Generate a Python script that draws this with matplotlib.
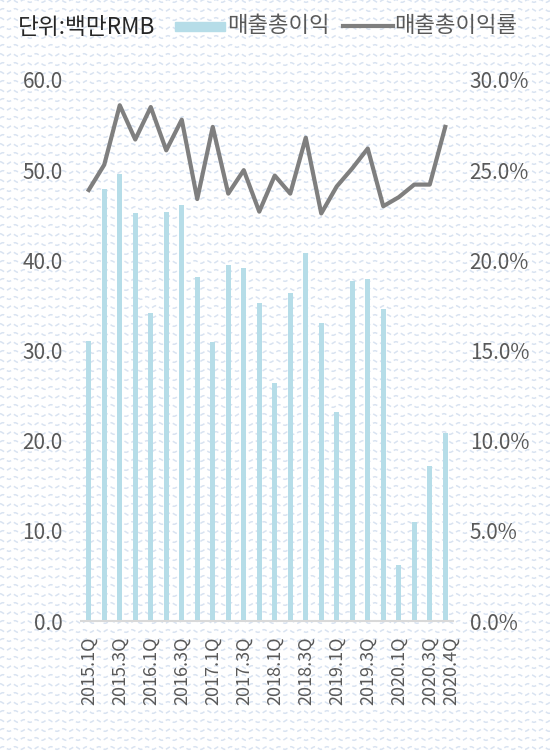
import numpy as np
import matplotlib
matplotlib.use("Agg")
import matplotlib.pyplot as plt
from matplotlib.patches import Rectangle
from matplotlib.lines import Line2D
from matplotlib.transforms import ScaledTranslation

plt.rcParams['font.family'] = ['Noto Sans CJK KR', 'DejaVu Sans']

quarters = [f"{y}.{q}Q" for y in range(2015, 2021) for q in range(1, 5)]
gross_profit = [31.1, 47.9, 49.6, 45.2, 34.2, 45.4, 46.1, 38.1,
                30.9, 39.5, 39.1, 35.3, 26.4, 36.4, 40.8, 33.0,
                23.2, 37.7, 37.9, 34.6, 6.2, 11.0, 17.2, 20.9]
gross_margin = [23.9, 25.3, 28.6, 26.7, 28.5, 26.1, 27.8, 23.4,
                27.4, 23.7, 25.0, 22.7, 24.7, 23.7, 26.8, 22.6,
                24.1, 25.1, 26.2, 23.0, 23.5, 24.2, 24.2, 27.4]
shown_labels = ["2015.1Q", "2015.3Q", "2016.1Q", "2016.3Q", "2017.1Q", "2017.3Q",
                "2018.1Q", "2018.3Q", "2019.1Q", "2019.3Q", "2020.1Q", "2020.3Q", "2020.4Q"]

bar_color = '#b6dde8'
line_color = '#7f7f7f'
text_color = '#595959'

W, H = 550, 751
fig = plt.figure(figsize=(W / 100, H / 100), dpi=100)
fig.patch.set_facecolor('white')

# wavy background texture
bg = fig.add_axes([0, 0, 1, 1], zorder=-5)
bg.set_xlim(0, W)
bg.set_ylim(0, H)
bg.axis('off')
xs = np.linspace(0, W, 800)
for i, yy in enumerate(np.arange(3, H, 9)):
    shift = 3 if i % 2 else 0
    bg.plot(xs, yy + 1.3 * np.sin(2 * np.pi * (xs + shift) / 12), color='#d9e3f1',
            lw=1.1, dashes=(3, 2))

ax = fig.add_axes([81 / W, 1 - 621 / H, (453 - 81) / W, (621 - 80) / H])
ax.set_facecolor('none')
x = np.arange(len(quarters))
ax.bar(x, gross_profit, width=0.33, color=bar_color, zorder=2)
ax.set_ylim(0, 60)
ax.set_xlim(-0.5, len(quarters) - 0.5)
ax.set_yticks(np.arange(0, 61, 10))
ax.set_yticklabels([f"{v:.1f}" for v in np.arange(0, 61, 10)])
ticks = [quarters.index(l) for l in shown_labels]
ax.set_xticks(ticks)
ax.set_xticklabels(shown_labels, rotation=90)
for s in ['top', 'right', 'left']:
    ax.spines[s].set_visible(False)
ax.spines['bottom'].set_color('#d9d9d9')
ax.spines['bottom'].set_linewidth(1.5)
ax.tick_params(axis='both', length=0, colors=text_color)
ax.tick_params(axis='y', labelsize=15, pad=13)
ax.tick_params(axis='x', labelsize=13, pad=11)
# nudge the last (crowded) label to the right, as in the original
last = ax.get_xticklabels()[-1]
last.set_transform(last.get_transform() + ScaledTranslation(6 / 100, 0, fig.dpi_scale_trans))

ax2 = ax.twinx()
ax2.plot(x, gross_margin, color=line_color, lw=3, zorder=3)
ax2.set_ylim(0, 30)
ax2.set_yticks(np.arange(0, 31, 5))
ax2.set_yticklabels([f"{v:.1f}%" for v in np.arange(0, 31, 5)])
for s in ax2.spines.values():
    s.set_visible(False)
ax2.tick_params(axis='y', length=0, colors=text_color, labelsize=15, pad=12)

# header: unit + legend
fig.text(18 / W, 1 - 27 / H, "단위:백만RMB", fontsize=16.3, color='#262626', va='center')
fig.patches.append(Rectangle((175 / W, 1 - 31 / H), 50 / W, 9 / H,
                             transform=fig.transFigure, color=bar_color))
fig.text(227 / W, 1 - 26 / H, "매출총이익", fontsize=16, color=text_color, va='center')
fig.lines.append(Line2D([343 / W, 393 / W], [1 - 26 / H, 1 - 26 / H],
                        transform=fig.transFigure, color=line_color, lw=3))
fig.text(394 / W, 1 - 26 / H, "매출총이익률", fontsize=16, color=text_color, va='center')

fig.savefig("out.png", dpi=100)
